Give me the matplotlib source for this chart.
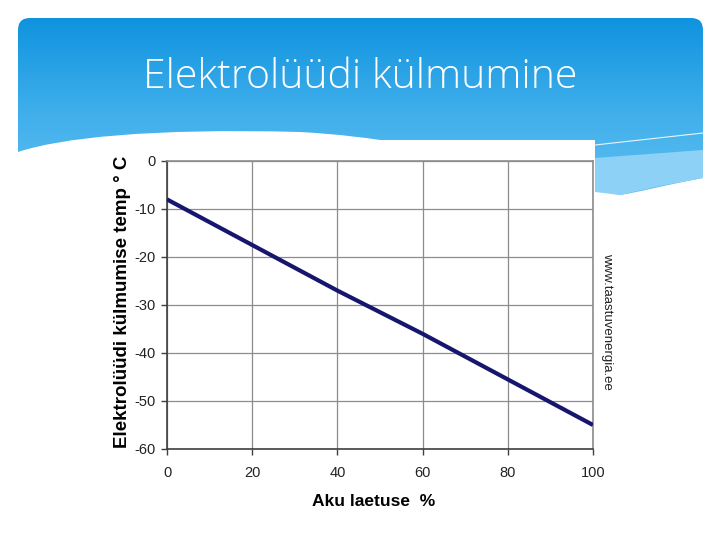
import numpy as np
import matplotlib
matplotlib.use("Agg")
import matplotlib.pyplot as plt
from matplotlib.path import Path
from matplotlib.patches import PathPatch, Rectangle, Polygon
from matplotlib.colors import LinearSegmentedColormap

plt.rcParams["axes.unicode_minus"] = False

# Data
charge_pct = [0, 20, 40, 60, 80, 100]
freeze_temp = [-8, -17.5, -27, -36, -45.5, -55]
x_ticks = [0, 20, 40, 60, 80, 100]
y_ticks = [0, -10, -20, -30, -40, -50, -60]

title = "Elektrolüüdi külmumine"
xlabel = "Aku laetuse  %"
ylabel = "Elektrolüüdi külmumise temp ° C"
source = "www.taastuvenergia.ee"

W, H = 720, 540
fig = plt.figure(figsize=(W / 100, H / 100), dpi=100)
fig.patch.set_facecolor("white")

# Background slide axes in pixel coordinates
bg = fig.add_axes([0, 0, 1, 1])
bg.set_xlim(0, W)
bg.set_ylim(H, 0)
bg.axis("off")

# Blue header shape
verts = [
    (30, 18),
    (691, 18), (703, 18), (703, 30),
    (703, 178),
    (660, 186), (640, 192), (620, 195),
    (560, 185), (450, 140), (300, 132),
    (150, 128), (60, 138), (18, 152),
    (18, 30),
    (18, 18), (30, 18),
    (30, 18),
]
codes = [
    Path.MOVETO,
    Path.LINETO, Path.CURVE3, Path.CURVE3,
    Path.LINETO,
    Path.CURVE4, Path.CURVE4, Path.CURVE4,
    Path.CURVE4, Path.CURVE4, Path.CURVE4,
    Path.CURVE4, Path.CURVE4, Path.CURVE4,
    Path.LINETO,
    Path.CURVE3, Path.CURVE3,
    Path.CLOSEPOLY,
]
header_path = Path(verts, codes)
patch = PathPatch(header_path, facecolor="none", edgecolor="none")
bg.add_patch(patch)
grad = np.linspace(0, 1, 256).reshape(-1, 1)
cmap = LinearSegmentedColormap.from_list("hdr", ["#0F93DE", "#3EAEEB", "#62C0F1"])
im = bg.imshow(grad, cmap=cmap, extent=[18, 703, 200, 18], aspect="auto", zorder=1)
im.set_clip_path(patch)

# lighter wave band on the right
light = Polygon([(595, 158), (703, 150), (703, 178), (660, 186), (620, 195), (595, 192)],
                closed=True, facecolor="#8ED1F6", edgecolor="none", zorder=2)
bg.add_patch(light)
bg.plot([595, 703], [145, 133], color="#E6F5FD", lw=0.8, zorder=3)

# Chart image white area
bg.add_patch(Rectangle((108, 140), 487, 380, facecolor="white", edgecolor="none", zorder=4))

bg.text(360, 78, title, color="white", fontsize=29.5, family=["Open Sans", "DejaVu Sans"],
        ha="center", va="center", zorder=5, fontweight="light")

# Chart axes
ax = fig.add_axes([167 / W, 1 - 449 / H, 426 / W, 288 / H])
ax.set_facecolor("white")
ax.set_zorder(5)
ax.plot(charge_pct, freeze_temp, color="#16166E", lw=3.0, solid_capstyle="butt", zorder=3)
ax.set_xlim(0, 100)
ax.set_ylim(-60, 0)
ax.set_xticks(x_ticks)
ax.set_yticks(y_ticks)
ax.grid(True, color="#8C8C8C", lw=0.9)
ax.set_axisbelow(True)
for s in ["top", "right"]:
    ax.spines[s].set_color("#8C8C8C")
    ax.spines[s].set_linewidth(1.2)
for s in ["left", "bottom"]:
    ax.spines[s].set_color("#404040")
    ax.spines[s].set_linewidth(1.2)

tick_font = ["Liberation Sans", "DejaVu Sans"]
ax.tick_params(axis="both", direction="out", length=4, width=1, color="#404040",
               labelsize=10.5, labelcolor="#222222", pad=4)
for lab in ax.get_xticklabels() + ax.get_yticklabels():
    lab.set_family(tick_font)
ax.tick_params(axis="x", pad=8)

ax.set_xlabel(xlabel, fontsize=12.5, fontweight="bold", family=["Liberation Sans", "DejaVu Sans"],
              labelpad=14)
ax.xaxis.set_label_coords(0.484, -0.155)
ax.set_ylabel(ylabel, fontsize=13.5, fontweight="bold", family=["Liberation Sans", "DejaVu Sans"])
ax.yaxis.set_label_coords(-36 / 426, 0.51)

bg.text(607, 321, source, rotation=-90, fontsize=9.5, family=["Liberation Sans", "DejaVu Sans"],
        ha="center", va="center", color="#222222", zorder=6)

fig.savefig("out.png", dpi=100)
